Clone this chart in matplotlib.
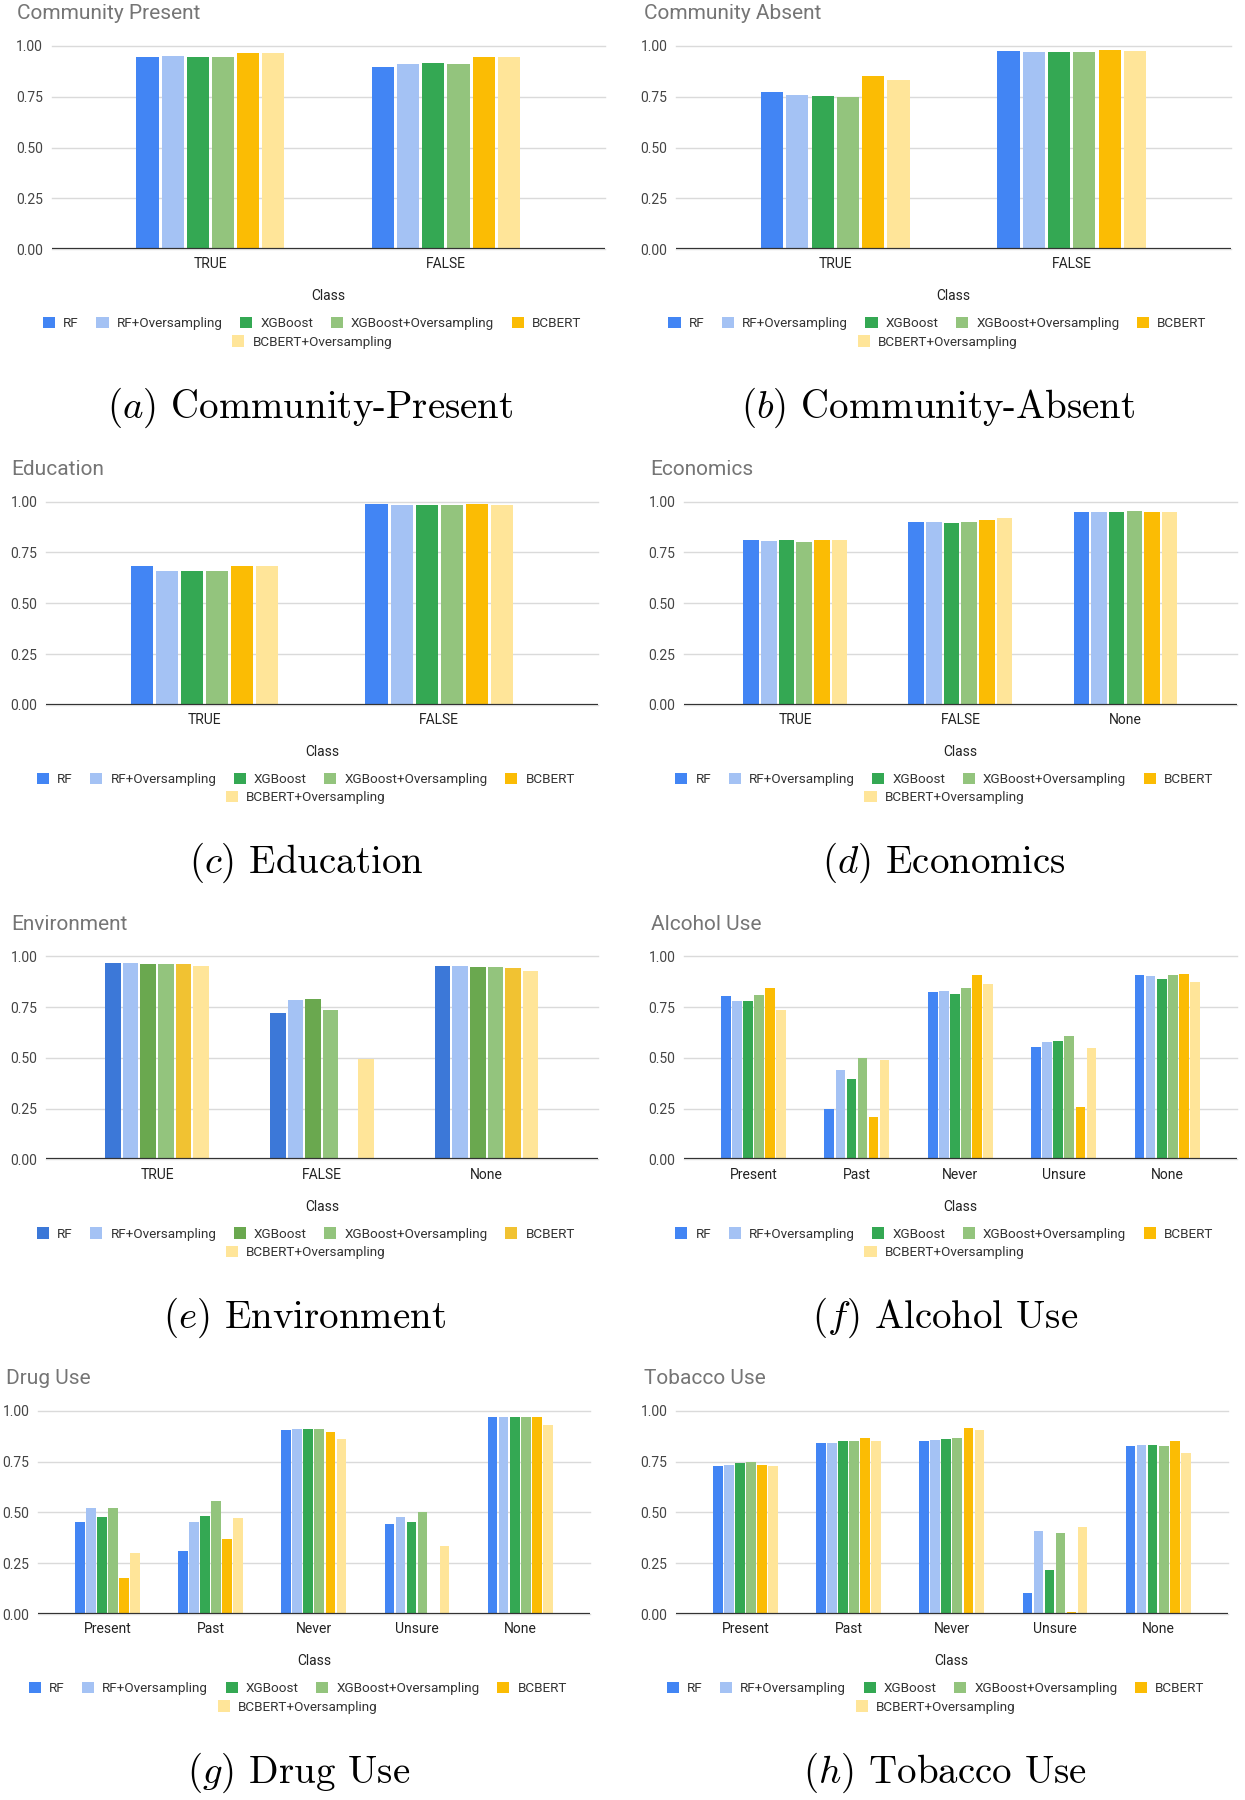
import numpy as np
import matplotlib.pyplot as plt
from matplotlib.patches import Patch

plt.rcParams['font.family'] = ['Roboto', 'DejaVu Sans']
plt.rcParams['mathtext.fontset'] = 'cm'

models = ["RF", "RF+Oversampling", "XGBoost", "XGBoost+Oversampling", "BCBERT", "BCBERT+Oversampling"]
colors = ["#4285F4", "#A4C2F4", "#34A853", "#93C47D", "#FBBC04", "#FFE599"]
colors_env = ["#3C78D8", "#A4C2F4", "#6AA84F", "#93C47D", "#F1C232", "#FFE599"]

cls_tf = ["TRUE", "FALSE"]
cls_tfn = ["TRUE", "FALSE", "None"]
cls_use = ["Present", "Past", "Never", "Unsure", "None"]

# one row per model (same order as models), one value per class
comm_present = [
    [0.944, 0.898],
    [0.951, 0.910],
    [0.944, 0.916],
    [0.944, 0.910],
    [0.967, 0.944],
    [0.967, 0.944],
]
comm_absent = [
    [0.775, 0.975],
    [0.759, 0.969],
    [0.754, 0.969],
    [0.749, 0.969],
    [0.851, 0.980],
    [0.831, 0.974],
]
education = [
    [0.683, 0.990],
    [0.657, 0.985],
    [0.657, 0.985],
    [0.657, 0.985],
    [0.683, 0.990],
    [0.683, 0.985],
]
economics = [
    [0.810, 0.899, 0.949],
    [0.806, 0.899, 0.949],
    [0.810, 0.894, 0.949],
    [0.799, 0.899, 0.954],
    [0.810, 0.908, 0.949],
    [0.810, 0.918, 0.949],
]
environment = [
    [0.969, 0.722, 0.954],
    [0.969, 0.783, 0.953],
    [0.962, 0.788, 0.948],
    [0.962, 0.737, 0.948],
    [0.962, 0.000, 0.943],
    [0.954, 0.493, 0.926],
]
alcohol = [
    [0.805, 0.248, 0.825, 0.554, 0.906],
    [0.782, 0.438, 0.830, 0.576, 0.901],
    [0.782, 0.398, 0.813, 0.581, 0.890],
    [0.808, 0.498, 0.846, 0.606, 0.906],
    [0.846, 0.209, 0.906, 0.260, 0.911],
    [0.737, 0.489, 0.865, 0.550, 0.875],
]
drug = [
    [0.453, 0.310, 0.905, 0.444, 0.971],
    [0.520, 0.453, 0.913, 0.479, 0.971],
    [0.479, 0.484, 0.913, 0.453, 0.971],
    [0.520, 0.556, 0.913, 0.500, 0.971],
    [0.176, 0.371, 0.894, 0.000, 0.971],
    [0.301, 0.474, 0.859, 0.335, 0.930],
]
tobacco = [
    [0.730, 0.841, 0.853, 0.105, 0.827],
    [0.734, 0.841, 0.858, 0.407, 0.832],
    [0.745, 0.853, 0.863, 0.217, 0.832],
    [0.750, 0.853, 0.868, 0.399, 0.827],
    [0.735, 0.868, 0.918, 0.010, 0.853],
    [0.730, 0.853, 0.908, 0.426, 0.794],
]

# layout in reference pixel units (1087 x 1568 grid)
W, H = 1087.0, 1568.0
row_top = [0, 397, 793, 1189]

panels = [
    # title, caption, classes, values, palette, row, axis left, axis right, title x, caption x
    ("Community Present", "$(a)$ Community-Present", cls_tf, comm_present, colors, 0, 45, 528, 15, 271),
    ("Community Absent", "$(b)$ Community-Absent", cls_tf, comm_absent, colors, 0, 590, 1075, 562, 819),
    ("Education", "$(c)$ Education", cls_tf, education, colors, 1, 40, 522, 10, 267),
    ("Economics", "$(d)$ Economics", cls_tfn, economics, colors, 1, 597, 1080, 568, 824),
    ("Environment", "$(e)$ Environment", cls_tfn, environment, colors_env, 2, 40, 522, 10, 266),
    ("Alcohol Use", "$(f)$ Alcohol Use", cls_use, alcohol, colors, 2, 597, 1080, 568, 825),
    ("Drug Use", "$(g)$ Drug Use", cls_use, drug, colors, 3, 33, 515, 5, 261),
    ("Tobacco Use", "$(h)$ Tobacco Use", cls_use, tobacco, colors, 3, 590, 1072, 562, 825),
]

fig = plt.figure(figsize=(12.45, 18), dpi=100)

pitch = 0.107
bw = 0.094

for title, cap, classes, vals, pal, r, xl, xr, tx, cx in panels:
    top = row_top[r]
    ax = fig.add_axes([xl / W, 1 - (top + 217) / H, (xr - xl) / W, 177 / H])
    n = len(classes)
    x = np.arange(n)
    for i in range(6):
        ax.bar(x + (i - 2.5) * pitch, vals[i], bw, color=pal[i], zorder=3)
    ax.set_xlim(-0.675, n - 1 + 0.675)
    ax.set_ylim(0, 1)
    ax.set_yticks([0, 0.25, 0.5, 0.75, 1.0])
    ax.set_yticklabels(["0.00", "0.25", "0.50", "0.75", "1.00"])
    ax.set_xticks(x)
    ax.set_xticklabels(classes)
    for s in ax.spines.values():
        s.set_visible(False)
    ax.grid(axis='y', color='#DADADA', lw=1.0, zorder=0)
    for gl in ax.get_ygridlines():
        gl.set_clip_on(False)
    ax.axhline(0, color='#333333', lw=1.6, zorder=4)
    ax.tick_params(length=0, labelsize=10, colors='#444444')
    ax.tick_params(axis='x', pad=6, colors='#222222')
    ax.tick_params(axis='y', pad=6)

    fig.text(tx / W, 1 - (top + 12) / H, title, fontsize=15, color='#757575', ha='left', va='center')
    axc = (xl + xr) / 2
    fig.text(axc / W, 1 - (top + 258) / H, "Class", fontsize=10, color='#222222', ha='center', va='center')

    lc = axc - 14
    handles = [Patch(facecolor=pal[i], edgecolor='none', label=models[i]) for i in range(6)]
    fig.legend(handles=handles[:5], loc='center', ncol=5, bbox_to_anchor=(lc / W, 1 - (top + 282) / H),
               frameon=False, fontsize=9.7, handlelength=0.9, handleheight=0.9,
               handletextpad=0.6, columnspacing=1.3, labelcolor='#333333')
    fig.legend(handles=handles[5:], loc='center', ncol=1, bbox_to_anchor=(lc / W, 1 - (top + 298) / H),
               frameon=False, fontsize=9.7, handlelength=0.9, handleheight=0.9,
               handletextpad=0.6, labelcolor='#333333')

    fig.text(cx / W, 1 - (top + 355) / H, cap, fontsize=28, family='cmr10', ha='center', va='center')

fig.savefig('out.png', dpi=100)
